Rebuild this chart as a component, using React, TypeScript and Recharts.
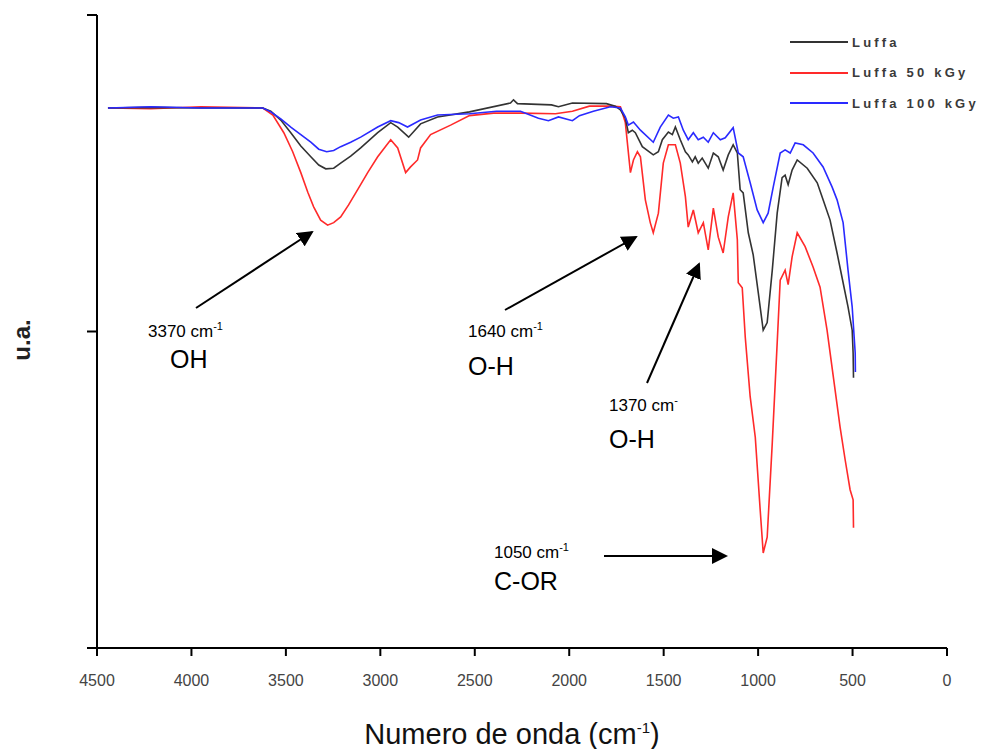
import React from 'react';
import { LineChart, Line, XAxis, YAxis, Legend } from 'recharts';

// x: wavenumber (cm-1), y: arbitrary units (u.a.)
const wavenumberTicks = [4500, 4000, 3500, 3000, 2500, 2000, 1500, 1000, 500, 0];
const yTicks = [0, 50, 100];

const seriesNames = ['Luffa', 'Luffa 50 kGy', 'Luffa 100 kGy'];
const seriesColors = ['#333333', '#ff2a2a', '#2a2aff'];

const luffa: [number, number][] = [
  [4442, 85.3], [4215, 85.4], [3950, 85.3], [3622, 85.3], [3580, 84.8], [3527, 83.4],
  [3474, 81.4], [3421, 79.3], [3368, 77.6], [3326, 76.3], [3289, 75.7], [3247, 75.8],
  [3210, 76.6], [3157, 77.7], [3104, 79.0], [3014, 81.4], [2945, 83.0],
  [2908, 82.3], [2850, 80.7], [2787, 82.8], [2697, 83.9], [2528, 84.7], [2311, 86.1],
  [2295, 86.6], [2274, 86.0], [2094, 85.8], [2057, 85.5], [1983, 86.1], [1803, 86.0],
  [1756, 85.6], [1729, 85.0], [1703, 83.7], [1687, 81.4], [1666, 81.8], [1650, 81.4],
  [1613, 79.2], [1555, 77.9], [1528, 78.4], [1507, 80.3], [1475, 81.5], [1454, 81.1],
  [1438, 82.3], [1412, 80.3], [1385, 78.4], [1370, 77.9], [1348, 76.8], [1333, 77.6],
  [1317, 76.6], [1296, 77.4], [1280, 76.6], [1264, 75.8], [1237, 78.2], [1211, 77.6],
  [1185, 75.5], [1158, 77.9], [1132, 79.5], [1110, 78.2], [1095, 72.4], [1079, 71.9],
  [1052, 65.6], [1026, 62.1], [999, 56.1], [973, 50.2], [952, 51.4], [925, 59.7],
  [899, 68.7], [873, 74.3], [857, 74.7], [841, 73.2], [820, 75.5], [793, 77.1],
  [740, 75.8], [687, 73.5], [656, 70.8], [619, 67.6], [582, 62.4], [550, 57.7],
  [524, 53.9], [502, 50.2], [497, 46.6], [495, 42.7],
];

const luffa50: [number, number][] = [
  [4442, 85.3], [4215, 85.2], [3950, 85.5], [3622, 85.3], [3569, 84.2], [3511, 81.4],
  [3464, 78.4], [3421, 75.1], [3384, 72.0], [3353, 69.7], [3316, 67.6], [3279, 66.8],
  [3247, 67.2], [3210, 68.1], [3168, 70.0], [3120, 72.4], [3067, 75.1], [3014, 77.6],
  [2945, 80.3], [2908, 79.0], [2866, 75.1], [2840, 76.0], [2803, 77.1], [2787, 79.0],
  [2734, 81.1], [2628, 82.6], [2528, 84.1], [2401, 84.5], [2258, 84.5], [2073, 84.4],
  [1983, 84.8], [1893, 85.6], [1782, 85.6], [1729, 85.5], [1703, 83.0], [1676, 75.1],
  [1660, 77.1], [1639, 78.4], [1623, 77.6], [1597, 70.8], [1571, 67.2], [1555, 65.6],
  [1528, 68.7], [1502, 76.6], [1475, 79.5], [1438, 79.5], [1412, 76.6], [1385, 71.3],
  [1370, 66.5], [1343, 69.2], [1317, 65.6], [1290, 67.2], [1264, 62.9], [1237, 69.5],
  [1211, 64.9], [1185, 62.4], [1158, 68.1], [1132, 71.9], [1110, 64.5], [1105, 57.7],
  [1084, 56.9], [1068, 49.1], [1042, 39.7], [1015, 33.3], [989, 21.8], [973, 15.0],
  [952, 17.5], [925, 32.4], [899, 48.2], [883, 58.1], [857, 59.7], [841, 57.4],
  [820, 61.8], [793, 65.6], [751, 63.4], [709, 60.2], [672, 57.0], [635, 50.2],
  [603, 43.1], [566, 34.9], [539, 29.7], [513, 25.0], [497, 23.4], [495, 19.0],
];

const luffa100: [number, number][] = [
  [4442, 85.3], [4215, 85.5], [3950, 85.3], [3622, 85.3], [3580, 84.7], [3527, 83.6],
  [3474, 82.3], [3421, 81.1], [3368, 79.9], [3326, 78.8], [3284, 78.4], [3247, 78.6],
  [3210, 79.2], [3157, 79.9], [3104, 80.7], [3014, 82.3], [2945, 83.3],
  [2903, 83.0], [2856, 82.3], [2787, 83.4], [2697, 84.2], [2528, 84.4], [2385, 84.8],
  [2258, 84.8], [2163, 83.7], [2110, 83.3], [2057, 83.9], [1983, 83.3], [1946, 84.1],
  [1872, 84.8], [1782, 85.5], [1729, 85.3], [1703, 83.9], [1687, 82.6], [1660, 83.1],
  [1623, 81.8], [1555, 79.9], [1518, 82.3], [1475, 84.2], [1449, 83.7], [1422, 83.9],
  [1396, 81.8], [1370, 80.3], [1343, 81.4], [1317, 80.3], [1290, 80.7], [1264, 79.9],
  [1237, 81.4], [1200, 80.3], [1174, 80.6], [1132, 82.2], [1105, 78.2], [1079, 77.6],
  [1042, 73.5], [1005, 69.2], [973, 67.2], [947, 68.7], [920, 72.8], [883, 78.2],
  [857, 78.7], [830, 78.2], [804, 79.8], [761, 79.5], [709, 78.2], [656, 76.0],
  [608, 72.8], [582, 70.8], [550, 67.2], [524, 59.7], [502, 53.9], [486, 46.6],
  [485, 43.6],
];

const toRows = (pairs: [number, number][]) => pairs.map(([wn, v]) => ({ wn, v }));
const seriesData = [toRows(luffa), toRows(luffa50), toRows(luffa100)];

const FONT = '"Liberation Sans", Arial, sans-serif';
const NARROW = '"Liberation Sans Narrow", "Arial Narrow", "Liberation Sans", Arial, sans-serif';

const LegendContent = () => (
  <div style={{ fontFamily: FONT }}>
    {seriesNames.map((name, i) => (
      <div key={name} style={{ display: 'flex', alignItems: 'center', height: 30.5 }}>
        <div style={{ width: 58, height: 2, background: seriesColors[i], marginRight: 4 }} />
        <span style={{ fontSize: 13, fontWeight: 'bold', letterSpacing: 3.2, color: '#3a3a3a', whiteSpace: 'nowrap' }}>{name}</span>
      </div>
    ))}
  </div>
);

const Sup = ({ children }: { children: React.ReactNode }) => (
  <tspan dy={-7} fontSize={11}>{children}</tspan>
);

const Annotations = () => (
  <svg width={984} height={749} style={{ position: 'absolute', left: 0, top: 0, pointerEvents: 'none' }}>
    <defs>
      <marker id="ah" markerWidth="8" markerHeight="8" refX="7" refY="4" orient="auto" markerUnits="strokeWidth">
        <path d="M0,0 L8,4 L0,8 Z" fill="#000" />
      </marker>
    </defs>
    <g stroke="#000" strokeWidth={2} fill="none">
      <line x1={196} y1={308} x2={312} y2={232} markerEnd="url(#ah)" />
      <line x1={505} y1={310} x2={636} y2={237} markerEnd="url(#ah)" />
      <line x1={647} y1={383} x2={699} y2={264} markerEnd="url(#ah)" />
      <line x1={604} y1={556} x2={726} y2={556} markerEnd="url(#ah)" />
    </g>
    <g fontFamily={FONT} fill="#000">
      <text x={148} y={337} fontSize={17}>3370 cm<Sup>-1</Sup></text>
      <text x={170} y={368} fontSize={25}>OH</text>
      <text x={468} y={337} fontSize={17}>1640 cm<Sup>-1</Sup></text>
      <text x={468} y={375} fontSize={25}>O-H</text>
      <text x={609} y={411} fontSize={17}>1370 cm<Sup>-</Sup></text>
      <text x={609} y={448} fontSize={25}>O-H</text>
      <text x={494} y={558} fontSize={17}>1050 cm<Sup>-1</Sup></text>
      <text x={494} y={590} fontSize={25}>C-OR</text>
    </g>
    <text x={512} y={744} textAnchor="middle" fontFamily={NARROW} fontSize={29} fill="#111">
      Numero de onda (cm<tspan dy={-11} fontSize={15}>-1</tspan><tspan dy={11}>)</tspan>
    </text>
    <text x={30} y={340} textAnchor="middle" transform="rotate(-90 30 340)" fontFamily={FONT} fontSize={24} fontWeight="bold" fill="#222">
      u.a.
    </text>
  </svg>
);

export default function App() {
  return (
    <div style={{ position: 'absolute', left: 0, top: 0, width: 984, height: 749, background: '#fff' }}>
      <LineChart width={984} height={749} margin={{ top: 15, right: 37, bottom: 61, left: 77 }}>
        <XAxis
          type="number"
          dataKey="wn"
          domain={[0, 4500]}
          reversed
          ticks={wavenumberTicks}
          allowDataOverflow
          height={40}
          tickSize={8}
          tickMargin={19}
          stroke="#000"
          axisLine={{ stroke: '#000', strokeWidth: 2 }}
          tickLine={{ stroke: '#000', strokeWidth: 2 }}
          tick={{ fill: '#444', fontSize: 16, fontFamily: NARROW }}
        />
        <YAxis
          type="number"
          domain={[0, 100]}
          ticks={yTicks}
          width={20}
          tickSize={10}
          tickFormatter={() => ''}
          axisLine={{ stroke: '#000', strokeWidth: 2 }}
          tickLine={{ stroke: '#000', strokeWidth: 2 }}
        />
        <Legend
          layout="vertical"
          align="center"
          verticalAlign="middle"
          wrapperStyle={{ position: 'absolute', top: 27, left: 790, width: 194 }}
          content={() => <LegendContent />}
        />
        {[1, 0, 2].map((i) => (
          <Line
            key={seriesNames[i]}
            name={seriesNames[i]}
            data={seriesData[i]}
            dataKey="v"
            type="linear"
            stroke={seriesColors[i]}
            strokeWidth={1.6}
            dot={false}
            activeDot={false}
            isAnimationActive={false}
          />
        ))}
      </LineChart>
      <Annotations />
    </div>
  );
}
